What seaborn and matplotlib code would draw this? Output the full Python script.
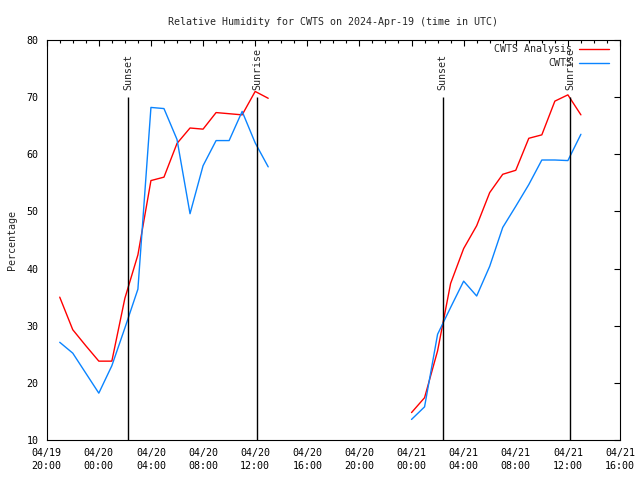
import matplotlib
matplotlib.use('Agg')
import matplotlib.pyplot as plt
import matplotlib.dates as mdates
import pandas as pd
import seaborn as sns

# hourly values, two runs of data (evening of 04/19 - midday 04/20, then 04/21 morning)
times_day1 = pd.date_range('2024-04-19 21:00', '2024-04-20 13:00', freq='h')
analysis_day1 = [35.0, 29.3, 26.5, 23.8, 23.8, 34.8, 42.4, 55.4, 56.0, 61.9, 64.6,
                 64.4, 67.3, 67.1, 66.9, 71.0, 69.8]
obs_day1 = [27.1, 25.2, 21.7, 18.2, 23.0, 29.6, 36.4, 68.2, 68.0, 62.6, 49.6,
            58.0, 62.4, 62.4, 67.5, 62.0, 57.8]

times_day2 = pd.date_range('2024-04-21 00:00', '2024-04-21 13:00', freq='h')
analysis_day2 = [14.8, 17.4, 25.6, 37.4, 43.5, 47.5, 53.3, 56.5, 57.2, 62.8, 63.4,
                 69.3, 70.4, 66.9]
obs_day2 = [13.6, 15.8, 28.5, 33.2, 37.8, 35.2, 40.4, 47.2, 50.9, 54.7, 59.0,
            59.0, 58.9, 63.5]

sun_times = pd.to_datetime(['2024-04-20 02:16', '2024-04-20 12:10',
                            '2024-04-21 02:23', '2024-04-21 12:11'])
sun_labels = ['Sunset', 'Sunrise', 'Sunset', 'Sunrise']

series_names = ['CWTS Analysis', 'CWTS']
colors = ['#ff0000', '#0a84ff']

rows = []
for seg, (t, a, o) in enumerate([(times_day1, analysis_day1, obs_day1),
                                 (times_day2, analysis_day2, obs_day2)]):
    for name, vals in zip(series_names, [a, o]):
        for ti, v in zip(t, vals):
            rows.append({'time': ti, 'rh': v, 'series': name, 'segment': seg})
df = pd.DataFrame(rows)

sns.set_theme(style='white')
plt.rcParams['font.family'] = ['DejaVu Sans Mono']
plt.rcParams['font.size'] = 7.2

fig = plt.figure(figsize=(6.4, 4.8), dpi=100)
ax = fig.add_axes([46.7 / 640, 40 / 480, (620 - 46.7) / 640, 400 / 480])

sns.lineplot(data=df, x='time', y='rh', hue='series', units='segment',
             estimator=None, palette=dict(zip(series_names, colors)),
             hue_order=series_names, linewidth=1, ax=ax)

ax.vlines(sun_times, 10, 70, color='black', linewidth=1)
for t, lab in zip(sun_times, sun_labels):
    ax.text(t, 71.2, lab, rotation=90, ha='center', va='bottom', fontsize=7.2)

ax.set_xlim(pd.Timestamp('2024-04-19 20:00'), pd.Timestamp('2024-04-21 16:00'))
ax.set_ylim(10, 80)
ax.set_yticks(range(10, 81, 10))
ax.xaxis.set_major_locator(mdates.HourLocator(byhour=[0, 4, 8, 12, 16, 20]))
ax.xaxis.set_minor_locator(mdates.HourLocator())
ax.xaxis.set_major_formatter(mdates.DateFormatter('%m/%d\n%H:%M'))
for lbl in ax.get_xticklabels():
    lbl.set_linespacing(1.35)

ax.tick_params(which='both', direction='in', top=True, right=True,
               colors='black', labelsize=7.2, width=0.8)
ax.tick_params(which='major', length=4.5, pad=6)
ax.tick_params(which='minor', length=2.3)
for s in ax.spines.values():
    s.set_color('black')
    s.set_linewidth(0.8)

ax.set_xlabel('')
ax.set_ylabel('Percentage', fontsize=7.2, labelpad=7)
ax.set_title('Relative Humidity for CWTS on 2024-Apr-19 (time in UTC)',
             fontsize=7.2, pad=11)

leg = ax.legend(loc='upper right', bbox_to_anchor=(0.988, 0.999),
                frameon=False, markerfirst=False,
                handlelength=3.0, handletextpad=0.7, labelspacing=0.4,
                borderaxespad=0, fontsize=7.2)

fig.savefig('out.png', dpi=100)
